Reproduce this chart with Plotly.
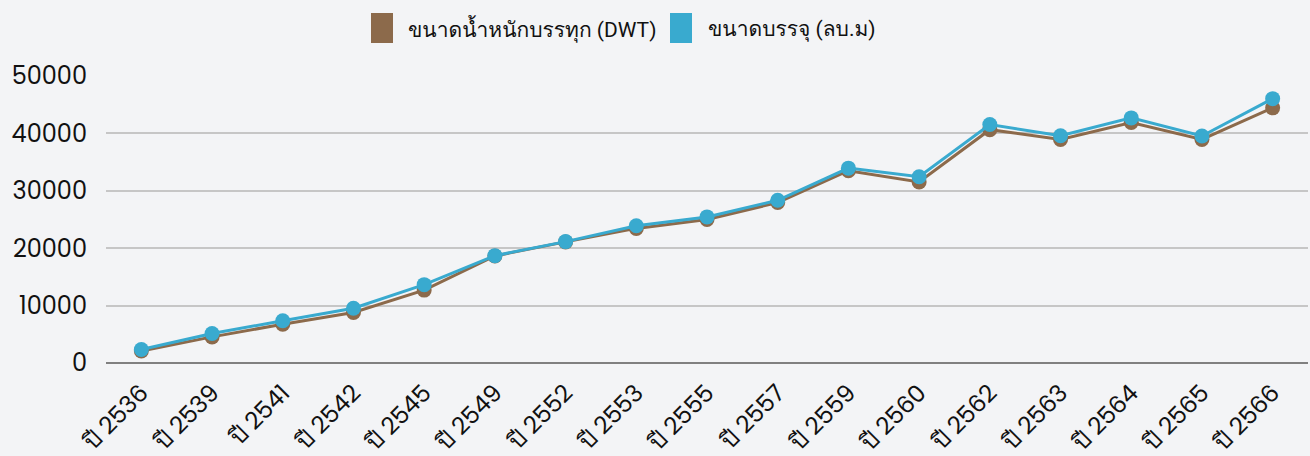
import plotly.graph_objects as go

years = ["ปี 2536", "ปี 2539", "ปี 2541", "ปี 2542", "ปี 2545", "ปี 2549", "ปี 2552",
         "ปี 2553", "ปี 2555", "ปี 2557", "ปี 2559", "ปี 2560", "ปี 2562", "ปี 2563",
         "ปี 2564", "ปี 2565", "ปี 2566"]
dwt = [2100, 4550, 6750, 8800, 12700, 18650, 21100, 23450, 25000, 27950, 33500,
       31550, 40650, 38950, 41900, 38950, 44450]
capacity = [2350, 5150, 7350, 9550, 13650, 18700, 21150, 23900, 25450, 28350, 33950,
            32450, 41550, 39600, 42700, 39550, 46050]
series_names = ["ขนาดน้ำหนักบรรทุก (DWT)", "ขนาดบรรจุ (ลบ.ม)"]
y_ticks = [0, 10000, 20000, 30000, 40000, 50000]

BROWN = "#8c6a4b"
BLUE = "#39aacf"
FONT = "Poppins, Loma, 'Noto Sans Thai', sans-serif"
LEGEND_FONT = "Roboto, Loma, 'Noto Sans Thai', sans-serif"

W, H = 1310, 456
plot_top, plot_bottom, plot_left, plot_right = 76, 363, 106, 1308

fig = go.Figure()
fig.add_trace(go.Scatter(x=years, y=dwt, name=series_names[0], mode="lines+markers",
                         line=dict(color=BROWN, width=3), marker=dict(color=BROWN, size=15)))
fig.add_trace(go.Scatter(x=years, y=capacity, name=series_names[1], mode="lines+markers",
                         line=dict(color=BLUE, width=3), marker=dict(color=BLUE, size=15)))

fig.update_layout(
    width=W, height=H,
    paper_bgcolor="#f3f4f6", plot_bgcolor="#f3f4f6",
    margin=dict(l=plot_left, r=W - plot_right, t=plot_top, b=H - plot_bottom),
    font=dict(family=FONT, size=20, color="#111111"),
    xaxis=dict(type="category", range=[-0.5, 16.5], tickangle=-45, showgrid=False,
               tickfont=dict(size=24), ticks="", showline=False, zeroline=False,
               ticklabelstandoff=10, automargin=False),
    yaxis=dict(range=[0, 50000], tickvals=y_ticks, ticktext=[str(v) for v in y_ticks],
               showgrid=True, gridcolor="#c6c6c6", gridwidth=1.5, zeroline=True,
               zerolinecolor="#808080", zerolinewidth=1.5, ticks="",
               ticklabelstandoff=18, tickfont=dict(size=24), automargin=False),
    showlegend=False,
)

def pax(x):
    return (x - plot_left) / (plot_right - plot_left)
def pay(y):
    return (plot_bottom - y) / (plot_bottom - plot_top)

legend_items = [(371, 406, BROWN, series_names[0]), (670, 706, BLUE, series_names[1])]
for sx, tx, col, name in legend_items:
    fig.add_shape(type="rect", xref="paper", yref="paper",
                  x0=pax(sx), x1=pax(sx + 22), y0=pay(43), y1=pay(13),
                  fillcolor=col, line=dict(width=0))
    fig.add_annotation(xref="paper", yref="paper", x=pax(tx), y=pay(29),
                       xanchor="left", yanchor="middle", text=name, showarrow=False,
                       font=dict(family=LEGEND_FONT, size=21, color="#111111"))

fig.write_html("out.html", config={"displayModeBar": False},
               post_script="document.body.style.margin='0';document.body.style.padding='0';")
